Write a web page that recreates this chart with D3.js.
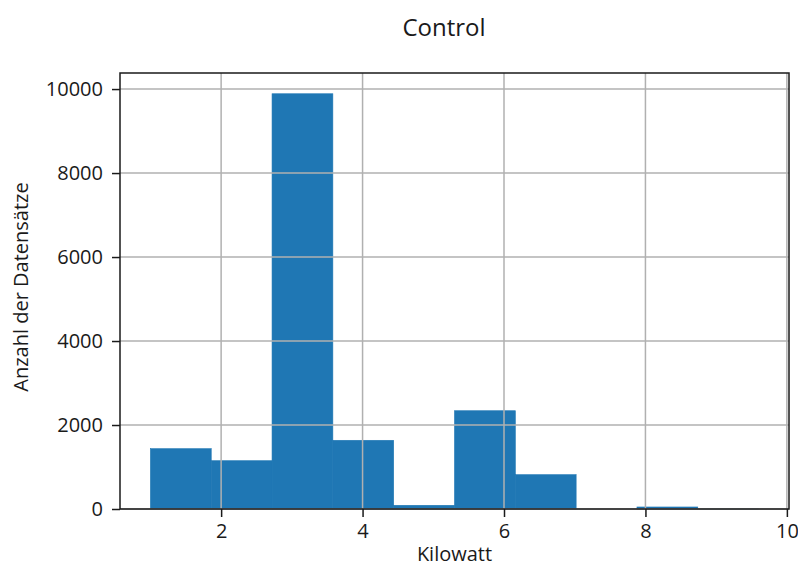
<!DOCTYPE html>
<html>
<head>
<meta charset="utf-8">
<script src="https://cdn.jsdelivr.net/npm/d3@7"></script>
<style>
  body { margin: 0; background: #fff; }
  svg { font-family: "Open Sans", "Noto Sans", sans-serif; }
</style>
</head>
<body>
<div id="chart"></div>
<script>
// Histogramm-Daten (10 Klassen)
const binEdges = [1.0, 1.86, 2.72, 3.58, 4.44, 5.30, 6.16, 7.02, 7.88, 8.74, 9.6];
const counts = [1436, 1150, 9888, 1636, 88, 2340, 817, 0, 48, 1];
const xTicks = [2, 4, 6, 8, 10];
const yTicks = [0, 2000, 4000, 6000, 8000, 10000];

const W = 798, H = 567;
const margin = { top: 73, right: 9, bottom: 58, left: 120 };
const width = W - margin.left - margin.right;
const height = H - margin.top - margin.bottom;
const ink = "#1a1a1a";

const svg = d3.select("#chart")
    .append("svg")
    .attr("width", W)
    .attr("height", H);

const g = svg.append("g")
    .attr("transform", `translate(${margin.left},${margin.top})`);

// Skalen (mit 5% Rand wie bei matplotlib)
const span = binEdges[binEdges.length - 1] - binEdges[0];
const x = d3.scaleLinear()
    .domain([binEdges[0] - 0.05 * span, binEdges[binEdges.length - 1] + 0.05 * span])
    .range([0, width]);

const y = d3.scaleLinear()
    .domain([0, d3.max(counts) * 1.05])
    .range([height, 0]);

const bins = counts.map((c, i) => ({ x0: binEdges[i], x1: binEdges[i + 1], count: c }));

// Balken
g.selectAll("rect.bar")
    .data(bins.filter(d => d.count > 0))
    .enter()
    .append("rect")
    .attr("class", "bar")
    .attr("x", d => x(d.x0))
    .attr("y", d => y(d.count))
    .attr("width", d => x(d.x1) - x(d.x0))
    .attr("height", d => height - y(d.count))
    .attr("fill", "#1f77b4")
    .attr("stroke", "#1f77b4")
    .attr("stroke-width", 0.6);

// Gitter
g.selectAll("line.gx")
    .data(xTicks)
    .enter()
    .append("line")
    .attr("x1", d => x(d)).attr("x2", d => x(d))
    .attr("y1", 0).attr("y2", height)
    .attr("stroke", "#b0b0b0")
    .attr("stroke-width", 1.5);

g.selectAll("line.gy")
    .data(yTicks)
    .enter()
    .append("line")
    .attr("x1", 0).attr("x2", width)
    .attr("y1", d => y(d)).attr("y2", d => y(d))
    .attr("stroke", "#b0b0b0")
    .attr("stroke-width", 1.5);

// Achsen
const xAxis = g.append("g")
    .attr("transform", `translate(0,${height})`)
    .call(d3.axisBottom(x).tickValues(xTicks).tickSize(8).tickPadding(7).tickFormat(d3.format("d")));

const yAxis = g.append("g")
    .call(d3.axisLeft(y).tickValues(yTicks).tickSize(8).tickPadding(9).tickFormat(d3.format("d")));

[xAxis, yAxis].forEach(a => {
    a.select(".domain").remove();
    a.selectAll("text")
        .attr("font-family", "Open Sans, Noto Sans, sans-serif")
        .attr("font-size", 20)
        .attr("fill", ink);
    a.selectAll("line").attr("stroke", ink).attr("stroke-width", 1.5);
});

// Rahmen
g.append("rect")
    .attr("x", 0).attr("y", 0)
    .attr("width", width).attr("height", height)
    .attr("fill", "none")
    .attr("stroke", ink)
    .attr("stroke-width", 1.5);

// Titel
svg.append("text")
    .attr("x", 444)
    .attr("y", 36)
    .attr("text-anchor", "middle")
    .attr("font-size", 24)
    .attr("fill", ink)
    .text("Control");

// Achsenbeschriftungen
svg.append("text")
    .attr("x", margin.left + width / 2)
    .attr("y", 561)
    .attr("text-anchor", "middle")
    .attr("font-size", 20)
    .attr("fill", ink)
    .text("Kilowatt");

svg.append("text")
    .attr("transform", "rotate(-90)")
    .attr("x", -(margin.top + height / 2) + 4)
    .attr("y", 28)
    .attr("text-anchor", "middle")
    .attr("font-size", 20)
    .attr("fill", ink)
    .text("Anzahl der Datensätze");
</script>
</body>
</html>
